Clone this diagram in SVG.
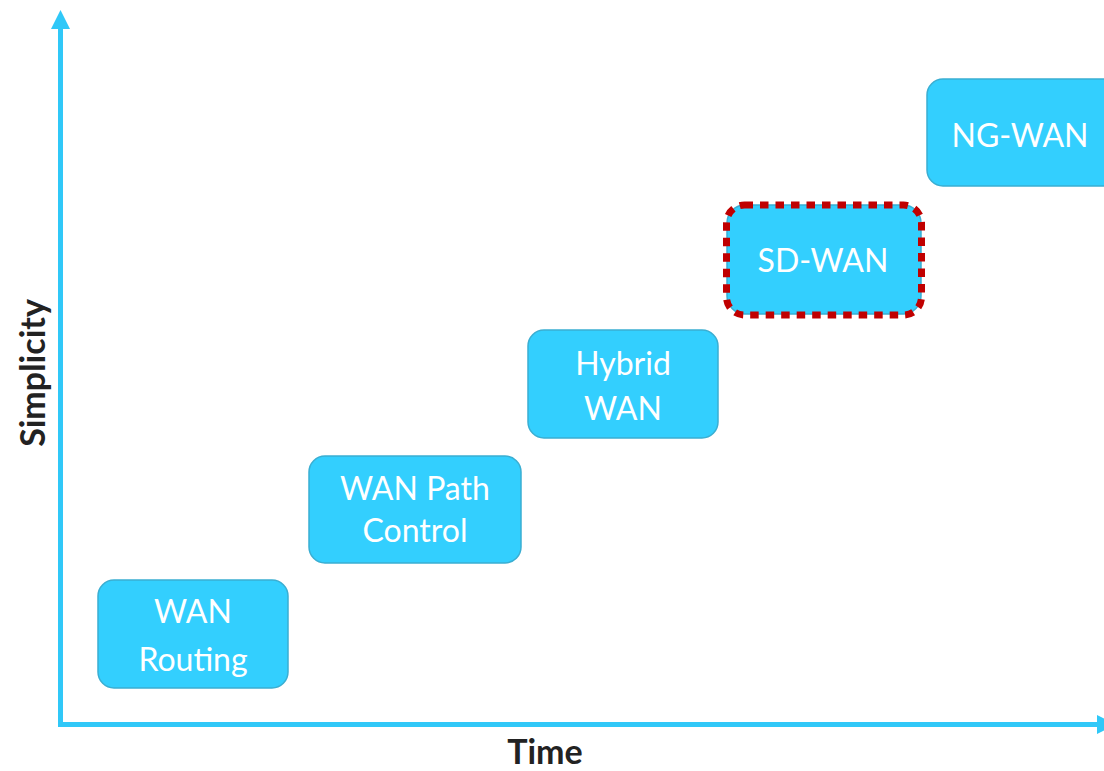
<svg xmlns="http://www.w3.org/2000/svg" width="1104" height="771" viewBox="0 0 1104 771">
<style>
.box{fill:#33CFFE;stroke:#3AAED2;stroke-width:1.5}
.lbl{font-family:Lato,"Open Sans","Liberation Sans",sans-serif;font-size:32px;fill:#FFFFFF;text-anchor:middle}
.ax{font-family:Lato,"Liberation Sans",sans-serif;font-size:34px;font-weight:bold;fill:#222222;text-anchor:middle}
.axis{stroke:#30C8F8;stroke-width:5;fill:none}
.head{fill:#30C8F8}
</style>
<rect width="1104" height="771" fill="#FFFFFF"/>
<g id="connectors">
<path class="axis" d="M60.5 26 V724.5 H1100"/>
<polygon class="head" points="60.5,10 51,29 70,29"/>
<polygon class="head" points="1097,715 1116,724.5 1097,734"/>
</g>
<g id="wan-routing">
<rect class="box" x="98" y="580" width="190" height="108" rx="16"/>
<text class="lbl" x="193" y="623">WAN</text>
<text class="lbl" x="193" y="671">Routing</text>
</g>
<g id="wan-path-control">
<rect class="box" x="309" y="456" width="212" height="107" rx="16"/>
<text class="lbl" x="415" y="500">WAN Path</text>
<text class="lbl" x="415" y="542">Control</text>
</g>
<g id="hybrid-wan">
<rect class="box" x="528" y="330" width="190" height="108" rx="16"/>
<text class="lbl" x="623" y="375">Hybrid</text>
<text class="lbl" x="623" y="420">WAN</text>
</g>
<g id="sd-wan">
<rect class="box" x="727" y="205" width="194" height="109" rx="18"/>
<rect x="726.5" y="205" width="195" height="110" rx="18" fill="none" stroke="#C00000" stroke-width="7" stroke-dasharray="8.5 7"/>
<text class="lbl" x="823" y="272">SD-WAN</text>
</g>
<g id="ng-wan">
<rect class="box" x="927" y="79" width="200" height="107" rx="16"/>
<text class="lbl" x="1020" y="147">NG-WAN</text>
</g>
<g id="axis-labels">
<text class="ax" x="545" y="764">Time</text>
<text class="ax" transform="translate(45 373) rotate(-90)" x="0" y="0">Simplicity</text>
</g>
</svg>
